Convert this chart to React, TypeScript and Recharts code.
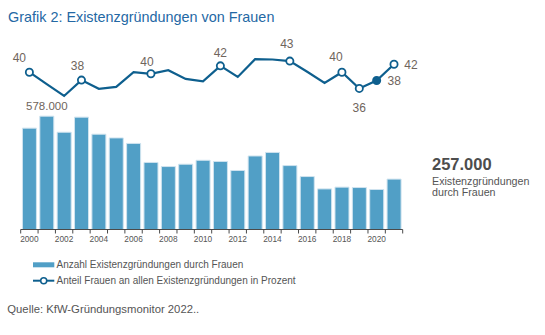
import { ComposedChart, Bar, Line, XAxis, YAxis, LabelList } from "recharts";

// Existenzgründungen durch Frauen, in Tausend
const years = [
  2000, 2001, 2002, 2003, 2004, 2005, 2006, 2007, 2008, 2009, 2010,
  2011, 2012, 2013, 2014, 2015, 2016, 2017, 2018, 2019, 2020, 2021,
];
const founders = [
  517, 578, 496, 573, 486, 467, 439, 342, 321, 333, 353,
  347, 301, 375, 393, 326, 270, 207, 216, 214, 204, 257,
];
// Anteil Frauen an allen Existenzgründungen, Prozent
const womenShare = [
  40, 37, 34, 38, 35.8, 36.3, 40, 39.6, 40.5, 38.3, 37.7,
  41.6, 38.8, 43.3, 43.2, 42.8, 40.1, 37.3, 40, 35.9, 37.9, 42,
];
const markedYears = [2000, 2003, 2007, 2011, 2015, 2018, 2019, 2020, 2021];
const highlightYear = 2020;

const data = years.map((year, i) => ({
  year,
  founders: founders[i],
  share: womenShare[i],
}));

const FONT = '"Liberation Sans", Arial, sans-serif';
const BAR = "#519fc6";
const BAR_EDGE = "#cfe3ef";
const LINE = "#0e5f8e";
const TITLE = "#2468a4";
const VALUE_TEXT = "#6f655c";
const TEXT = "#555555";
const AXIS = "#4a4a4a";

const CHART_W = 545;
const MARGIN = { top: 29.5, right: 142.3, bottom: 0.5, left: 20.7 };
const SLOT = (CHART_W - MARGIN.left - MARGIN.right) / years.length;

// label placement around the line markers (dx, dy from point to text centre)
const LABEL_OFFSET: Record<number, [number, number]> = {
  2000: [-10, -14.7],
  2003: [-4, -14.5],
  2007: [-4, -12],
  2011: [0, -13],
  2015: [-3, -17],
  2018: [-6, -15],
  2019: [0, 19.5],
  2020: [17.6, 0],
  2021: [17, 0],
};

function thousands(v: number) {
  return `${v}.000`;
}

function YearTick(props: any) {
  const { x, y, index, payload } = props;
  const left = x - SLOT / 2;
  return (
    <g>
      <line x1={left} x2={left} y1={y} y2={y + 4} stroke={AXIS} />
      {index === years.length - 1 && (
        <line x1={left + SLOT} x2={left + SLOT} y1={y} y2={y + 4} stroke={AXIS} />
      )}
      {payload.value % 2 === 0 && (
        <text
          x={x}
          y={y + 12.4}
          textAnchor="middle"
          fontSize={8.3}
          fontFamily={FONT}
          fill={TEXT}
        >
          {payload.value}
        </text>
      )}
    </g>
  );
}

function ShareDot(props: any) {
  const { cx, cy, payload, index } = props;
  if (!markedYears.includes(payload.year)) return <g key={`d${index}`} />;
  return (
    <circle
      key={`d${index}`}
      cx={cx}
      cy={cy}
      r={3.6}
      stroke={LINE}
      strokeWidth={1.8}
      fill={payload.year === highlightYear ? LINE : "#ffffff"}
    />
  );
}

function ShareLabel(props: any) {
  const { x, y, value, index } = props;
  const year = years[index];
  if (!markedYears.includes(year)) return null;
  const [dx, dy] = LABEL_OFFSET[year] ?? [0, -14];
  return (
    <text
      x={x + dx}
      y={y + dy + 4.3}
      textAnchor="middle"
      fontSize={12}
      fontFamily={FONT}
      fill={VALUE_TEXT}
    >
      {Math.round(value)}
    </text>
  );
}

function PeakLabel(props: any) {
  const { x, y, width, value } = props;
  if (value !== Math.max(...founders)) return null;
  return (
    <text
      x={x + width / 2}
      y={y - 6.5}
      textAnchor="middle"
      fontSize={11.5}
      fontFamily={FONT}
      fill={VALUE_TEXT}
    >
      {thousands(value)}
    </text>
  );
}

export default function App() {
  const latest = founders[founders.length - 1];
  return (
    <div
      style={{
        position: "absolute",
        left: 0,
        top: 0,
        width: 545,
        height: 335,
        background: "#ffffff",
        fontFamily: FONT,
      }}
    >
      <div
        style={{
          position: "absolute",
          left: 8,
          top: 9,
          fontSize: 14.4,
          lineHeight: "16px",
          color: TITLE,
          whiteSpace: "nowrap",
        }}
      >
        Grafik 2: Existenzgründungen von Frauen
      </div>

      <div style={{ position: "absolute", left: 0, top: 0 }}>
        <ComposedChart width={CHART_W} height={250} data={data} margin={MARGIN}>
          <XAxis
            dataKey="year"
            interval={0}
            tickSize={0}
            tickMargin={0}
            height={20}
            tick={<YearTick />}
            axisLine={{ stroke: AXIS, strokeWidth: 1 }}
          />
          <YAxis yAxisId="bars" hide domain={[0, 1020]} />
          <YAxis yAxisId="pct" hide domain={[0.28, 50.78]} />
          <Bar
            yAxisId="bars"
            dataKey="founders"
            fill={BAR}
            stroke={BAR_EDGE}
            strokeWidth={1}
            barCategoryGap={0.3}
            isAnimationActive={false}
          >
            <LabelList dataKey="founders" content={<PeakLabel />} />
          </Bar>
          <Line
            yAxisId="pct"
            type="linear"
            dataKey="share"
            stroke={LINE}
            strokeWidth={2.2}
            dot={ShareDot}
            activeDot={false}
            isAnimationActive={false}
          >
            <LabelList dataKey="share" content={<ShareLabel />} />
          </Line>
        </ComposedChart>
      </div>

      <div
        style={{
          position: "absolute",
          left: 432,
          top: 154.6,
          fontSize: 16.5,
          lineHeight: "18px",
          fontWeight: "bold",
          color: "#4d4d4d",
        }}
      >
        {thousands(latest)}
      </div>
      <div
        style={{
          position: "absolute",
          left: 432,
          top: 176,
          fontSize: 10.7,
          lineHeight: "10.5px",
          color: TEXT,
        }}
      >
        Existenzgründungen
        <br />
        durch Frauen
      </div>

      <svg
        width={340}
        height={40}
        style={{ position: "absolute", left: 0, top: 255 }}
      >
        <rect x={33} y={7.3} width={21.3} height={5} fill={BAR} />
        <text x={56.5} y={13} fontSize={10} fontFamily={FONT} fill={TEXT}>
          Anzahl Existenzgründungen durch Frauen
        </text>
        <line x1={33} x2={54.3} y1={25.7} y2={25.7} stroke={LINE} strokeWidth={2} />
        <circle cx={43.7} cy={25.7} r={3} stroke={LINE} strokeWidth={1.5} fill="#ffffff" />
        <text x={56.5} y={29.3} fontSize={10} fontFamily={FONT} fill={TEXT}>
          Anteil Frauen an allen Existenzgründungen in Prozent
        </text>
      </svg>

      <div
        style={{
          position: "absolute",
          left: 7.3,
          top: 302.5,
          fontSize: 11.3,
          lineHeight: "13px",
          color: TEXT,
          whiteSpace: "nowrap",
        }}
      >
        Quelle: KfW-Gründungsmonitor 2022..
      </div>
    </div>
  );
}
